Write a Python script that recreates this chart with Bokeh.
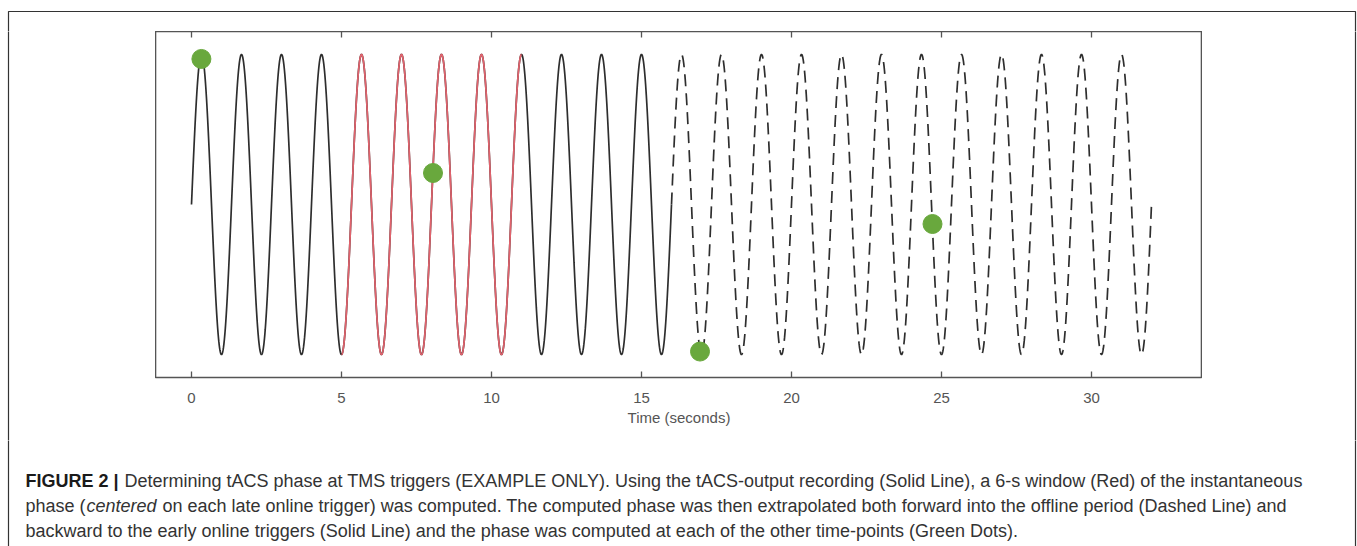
import numpy as np
from bokeh.plotting import figure
from bokeh.models import Range1d, FixedTicker, LinearAxis
from bokeh.layouts import column, row
from bokeh.core.properties import value
from bokeh.embed import file_html
from bokeh.resources import INLINE

# ---- values ----
tacs_freq_hz = 0.75          # one cycle every ~1.33 s
tacs_amplitude = 1.0
solid_span = [0.0, 16.0]     # tACS-output recording (solid)
red_span = [5.0, 11.0]       # 6-s window (red)
dashed_span = [16.0, 32.0]   # extrapolated phase (dashed)
dot_times = [0.33, 8.05, 16.95, 24.7]
dot_values = [0.97, 0.21, -0.98, -0.13]
x_ticks = [0, 5, 10, 15, 20, 25, 30]
x_label = "Time (seconds)"

caption_bold = "FIGURE 2 |"
caption_l1 = ("Determining tACS phase at TMS triggers (EXAMPLE ONLY). Using the tACS-output recording "
              "(Solid Line), a 6-s window (Red) of the instantaneous")
caption_l2a = "phase ("
caption_l2b = "centered"
caption_l2c = ("on each late online trigger) was computed. The computed phase was then extrapolated both "
               "forward into the offline period (Dashed Line) and")
caption_l3 = ("backward to the early online triggers (Solid Line) and the phase was computed at each of the "
              "other time-points (Green Dots).")


def wave(span, n=2000):
    t = np.linspace(span[0], span[1], n)
    return t, tacs_amplitude * np.sin(2 * np.pi * tacs_freq_hz * t)


font = "Liberation Sans"
W, H = 1357, 546
TOP_H = 31                    # strip above the plot frame
MID_H = 409                   # frame (346) + axis area (63)
CAP_H = H - TOP_H - MID_H     # caption area
SIDE_W = 155
BOX_L, BOX_R, BOX_T = 8, 1355, 11
BOX_COLOR, BOX_W = "#333333", 1.2


def blank(w, h, y0, x0=0):
    """A figure whose frame is its whole canvas, in page-pixel coordinates."""
    f = figure(width=w, height=h, output_backend="svg", toolbar_location=None,
               x_range=Range1d(x0, x0 + w), y_range=Range1d(y0 + h, y0),
               min_border=0, x_axis_location=None, y_axis_location=None,
               frame_align=False)
    f.grid.visible = False
    f.outline_line_color = None
    f.background_fill_color = "white"
    f.border_fill_color = "white"
    return f


# --- top strip: box top edge and sides ---
top = blank(W, TOP_H, 0)
top.line([BOX_L, BOX_L, BOX_R, BOX_R], [TOP_H + 2, BOX_T, BOX_T, TOP_H + 2],
         line_color=BOX_COLOR, line_width=BOX_W)

# --- side strips ---
left = blank(SIDE_W, MID_H, TOP_H)
left.line([BOX_L, BOX_L], [TOP_H - 2, TOP_H + MID_H + 2], line_color=BOX_COLOR, line_width=BOX_W)
right = blank(SIDE_W, MID_H, TOP_H, x0=W - SIDE_W)
right.line([BOX_R, BOX_R], [TOP_H - 2, TOP_H + MID_H + 2], line_color=BOX_COLOR, line_width=BOX_W)

# --- chart ---
y_lo, y_hi = -1.153, 1.153
p = figure(width=W - 2 * SIDE_W, height=MID_H, output_backend="svg", toolbar_location=None,
           x_range=Range1d(-1.2, 33.7), y_range=Range1d(y_lo, y_hi),
           min_border_left=0, min_border_right=0, min_border_top=0, min_border_bottom=MID_H - 346,
           x_axis_location=None, y_axis_location=None, frame_align=False)
p.grid.visible = False
p.outline_line_color = "#555555"
p.outline_line_width = 1.6
p.background_fill_color = "white"
p.border_fill_color = "white"

ax = LinearAxis(ticker=FixedTicker(ticks=x_ticks))
ax.axis_line_color = None
ax.major_tick_in = 6
ax.major_tick_out = 0
ax.major_tick_line_color = "#555555"
ax.major_tick_line_width = 1.3
ax.minor_tick_line_color = None
ax.major_label_text_font = font
ax.major_label_text_font_size = "15px"
ax.major_label_text_color = "#555555"
ax.major_label_standoff = 15
ax.axis_label = x_label
ax.axis_label_text_font = font
ax.axis_label_text_font_size = "15px"
ax.axis_label_text_font_style = "normal"
ax.axis_label_text_color = "#555555"
ax.axis_label_standoff = 3
p.add_layout(ax, "below")

# inward tick marks on the top edge of the frame, at the same tick positions
p.scatter(x_ticks, [y_hi] * len(x_ticks), marker="dash", angle=np.pi / 2, size=12,
          line_color="#555555", line_width=1.3)

t1, y1 = wave(solid_span)
p.line(t1, y1, line_color="#2e2e2e", line_width=1.7)
t2, y2 = wave(red_span)
p.line(t2, y2, line_color="#e0626c", line_width=1.7)
t3, y3 = wave(dashed_span)
p.line(t3, y3, line_color="#2e2e2e", line_width=1.7, line_dash="12 7")
p.scatter(dot_times, dot_values, size=19, fill_color="#69a83d", line_color="#69a83d")

# --- caption ---
cap = blank(W, CAP_H, TOP_H + MID_H)
cap.line([BOX_L, BOX_L], [TOP_H + MID_H - 2, H + 5], line_color=BOX_COLOR, line_width=BOX_W)
cap.line([BOX_R, BOX_R], [TOP_H + MID_H - 2, H + 5], line_color=BOX_COLOR, line_width=BOX_W)

cap_size = "18px"
cap_color = "#333333"


def cap_text(text, x, y, style="normal", color=cap_color):
    cap.text(x=[x], y=[y], text=[text], text_font=value(font), text_font_size=value(cap_size),
             text_font_style=value(style), text_color=color,
             text_baseline="alphabetic", text_align="left")


cap_text(caption_bold, 25, 480, "bold", "#1a1a1a")
cap_text(caption_l1, 124, 480)
cap_text(caption_l2a, 25, 505)
cap_text(caption_l2b, 86, 505, "italic")
cap_text(caption_l2c, 162, 505)
cap_text(caption_l3, 25, 530)

layout = column(top, row(left, p, right), cap)
open("out.html", "w").write(file_html(layout, INLINE))
